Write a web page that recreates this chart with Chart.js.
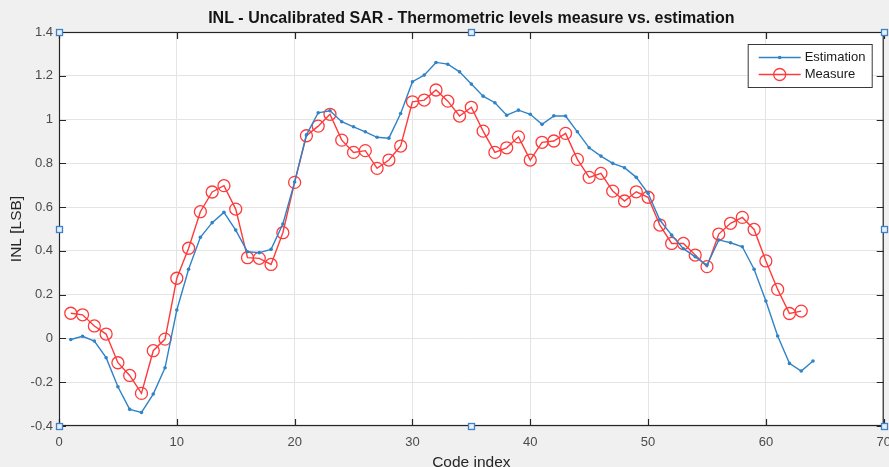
<!DOCTYPE html>
<html>
<head>
<meta charset="utf-8">
<title>INL - Uncalibrated SAR</title>
<script src="https://cdn.jsdelivr.net/npm/chart.js@4.4.1/dist/chart.umd.min.js"></script>
<style>
  html, body { margin: 0; padding: 0; background: #f0f0f0; overflow: hidden; }
  /* canvas is 2px wider than the window so the "70" label is cut, as in the original */
  #wrap { width: 889px; height: 467px; overflow: hidden; }
</style>
</head>
<body>
<div id="wrap"><canvas id="inlChart" width="891" height="467"></canvas></div>
<script>
// Code indices (x axis categories)
const codeIndex = [
    1, 2, 3, 4, 5, 6, 7, 8, 9, 10, 11, 12, 13, 14, 15, 16,
    17, 18, 19, 20, 21, 22, 23, 24, 25, 26, 27, 28, 29, 30, 31, 32,
    33, 34, 35, 36, 37, 38, 39, 40, 41, 42, 43, 44, 45, 46, 47, 48,
    49, 50, 51, 52, 53, 54, 55, 56, 57, 58, 59, 60, 61, 62, 63, 64
];

// INL [LSB]
const estimation = [
    -0.005, 0.010, -0.012, -0.088, -0.221, -0.324, -0.338, -0.254,
    -0.134, 0.130, 0.316, 0.462, 0.529, 0.576, 0.495, 0.396,
    0.392, 0.407, 0.523, 0.715, 0.930, 1.031, 1.040, 0.990,
    0.967, 0.944, 0.919, 0.915, 1.028, 1.173, 1.203, 1.261,
    1.253, 1.218, 1.162, 1.107, 1.077, 1.020, 1.043, 1.024,
    0.978, 1.017, 1.016, 0.944, 0.871, 0.833, 0.800, 0.780,
    0.736, 0.663, 0.541, 0.472, 0.410, 0.373, 0.335, 0.450,
    0.437, 0.419, 0.316, 0.171, 0.011, -0.114, -0.149, -0.103
];

const measure = [
    0.115, 0.108, 0.057, 0.020, -0.111, -0.169, -0.251, -0.056,
    -0.003, 0.275, 0.412, 0.579, 0.669, 0.698, 0.591, 0.369,
    0.366, 0.338, 0.483, 0.713, 0.926, 0.970, 1.024, 0.906,
    0.850, 0.858, 0.777, 0.815, 0.879, 1.081, 1.089, 1.135,
    1.084, 1.016, 1.056, 0.947, 0.850, 0.871, 0.921, 0.815,
    0.896, 0.902, 0.937, 0.818, 0.736, 0.754, 0.673, 0.628,
    0.670, 0.645, 0.518, 0.434, 0.434, 0.381, 0.328, 0.477,
    0.526, 0.553, 0.498, 0.354, 0.224, 0.114, 0.125
];

// Tick labels
const xTicks = [0, 10, 20, 30, 40, 50, 60, 70];
const yTicks = [-0.4, -0.2, 0, 0.2, 0.4, 0.6, 0.8, 1, 1.2, 1.4];

const TITLE = 'INL - Uncalibrated SAR - Thermometric levels measure vs. estimation';
const FONT = '"Liberation Sans", Arial, Helvetica, sans-serif';
const BLUE = '#2f83c6';
const RED = '#ff3a3a';
const AXIS = '#262626';

const InlChart = {
    init() {
        const ctx = document.querySelector('#inlChart');
        if (!ctx || typeof Chart === 'undefined') return;

        new Chart(ctx, {
            type: 'line',
            data: { datasets: this.buildDatasets() },
            options: this.buildOptions(),
            plugins: [this.backgroundPlugin(), this.framePlugin()]
        });
    },

    buildDatasets() {
        const toPoints = (values) => values.map((v, i) => ({ x: codeIndex[i], y: v }));
        return [
            {
                label: 'Estimation',
                data: toPoints(estimation),
                borderColor: BLUE,
                backgroundColor: BLUE,
                borderWidth: 1.4,
                pointRadius: 1.8,
                pointBorderWidth: 0,
                pointHoverRadius: 1.8,
                tension: 0
            },
            {
                label: 'Measure',
                data: toPoints(measure),
                borderColor: RED,
                backgroundColor: 'rgba(0,0,0,0)',
                borderWidth: 1.4,
                pointStyle: 'circle',
                pointRadius: 6,
                pointBorderWidth: 1.3,
                pointHoverRadius: 6,
                tension: 0
            }
        ];
    },

    buildOptions() {
        return {
            responsive: false,
            animation: false,
            devicePixelRatio: 1,
            // top space is for the title, which MATLAB centres over the axes
            layout: { padding: { left: 0, right: 0, top: 32, bottom: 0 } },
            plugins: {
                legend: { display: false },
                tooltip: { enabled: false },
                title: { display: false }
            },
            scales: {
                x: {
                    type: 'linear',
                    min: 0,
                    max: 70,
                    afterBuildTicks: (scale) => {
                        scale.ticks = xTicks.map(v => ({ value: v }));
                    },
                    afterFit: (scale) => {
                        scale.height = 41;
                        scale.paddingLeft = 0;
                        scale.paddingRight = 0;
                    },
                    grid: { color: '#e4e4e4', lineWidth: 1, drawTicks: false },
                    border: { display: false },
                    ticks: {
                        padding: 9,
                        color: '#4a4a4a',
                        font: { family: FONT, size: 13 },
                        maxRotation: 0
                    },
                    title: {
                        display: true,
                        text: 'Code index',
                        color: AXIS,
                        font: { family: FONT, size: 15.5, lineHeight: 1 },
                        padding: { top: 0, bottom: -3.5 }
                    }
                },
                y: {
                    min: -0.4,
                    max: 1.4,
                    afterBuildTicks: (scale) => {
                        scale.ticks = yTicks.map(v => ({ value: v }));
                    },
                    afterFit: (scale) => {
                        scale.width = 59;
                    },
                    grid: { color: '#e4e4e4', lineWidth: 1, drawTicks: false },
                    border: { display: false },
                    ticks: {
                        padding: 6,
                        color: '#4a4a4a',
                        font: { family: FONT, size: 13 },
                        callback: (value) => String(+value.toFixed(1))
                    },
                    title: {
                        display: true,
                        text: 'INL [LSB]',
                        color: AXIS,
                        font: { family: FONT, size: 15.5 },
                        padding: { top: 7.5, bottom: 0 }
                    }
                }
            }
        };
    },

    // Grey figure background, white axes
    backgroundPlugin() {
        return {
            id: 'figureBackground',
            beforeDraw(chart) {
                const { ctx, chartArea: a } = chart;
                ctx.save();
                ctx.fillStyle = '#f0f0f0';
                ctx.fillRect(0, 0, chart.width, chart.height);
                ctx.fillStyle = '#ffffff';
                ctx.fillRect(a.left, a.top, a.right - a.left, a.bottom - a.top);
                ctx.restore();
            }
        };
    },

    // Title, axes box, inward ticks, boxed legend and selection handles
    framePlugin() {
        return {
            id: 'matlabFrame',
            afterDraw(chart) {
                const { ctx, chartArea: a, scales } = chart;
                ctx.save();

                // title over the axes centre
                ctx.fillStyle = '#141414';
                ctx.font = 'bold 16px ' + FONT;
                ctx.textAlign = 'center';
                ctx.textBaseline = 'middle';
                ctx.fillText(TITLE, (a.left + a.right) / 2, a.top - 13);

                // box
                ctx.strokeStyle = AXIS;
                ctx.lineWidth = 1.2;
                ctx.strokeRect(a.left + 0.5, a.top + 0.5, a.right - a.left - 1, a.bottom - a.top - 1);

                // inward ticks
                const len = 7;
                ctx.beginPath();
                xTicks.forEach(v => {
                    const px = Math.round(scales.x.getPixelForValue(v)) + 0.5;
                    ctx.moveTo(px, a.bottom);
                    ctx.lineTo(px, a.bottom - len);
                    ctx.moveTo(px, a.top);
                    ctx.lineTo(px, a.top + len);
                });
                yTicks.forEach(v => {
                    const py = Math.round(scales.y.getPixelForValue(v)) + 0.5;
                    ctx.moveTo(a.left, py);
                    ctx.lineTo(a.left + len, py);
                    ctx.moveTo(a.right, py);
                    ctx.lineTo(a.right - len, py);
                });
                ctx.stroke();

                InlChart.drawLegend(chart);

                // selection handles
                const midX = (a.left + a.right) / 2;
                const midY = (a.top + a.bottom) / 2;
                const handles = [
                    [a.left, a.top], [midX, a.top], [a.right, a.top],
                    [a.left, midY], [a.right, midY],
                    [a.left, a.bottom], [midX, a.bottom], [a.right, a.bottom]
                ];
                ctx.lineWidth = 1.3;
                ctx.strokeStyle = '#3f80c6';
                ctx.fillStyle = '#e8f0fa';
                handles.forEach(([hx, hy]) => {
                    ctx.fillRect(Math.round(hx) - 3, Math.round(hy) - 3, 6, 6);
                    ctx.strokeRect(Math.round(hx) - 2.5, Math.round(hy) - 2.5, 6, 6);
                });

                ctx.restore();
            }
        };
    },

    drawLegend(chart) {
        const { ctx, chartArea: a } = chart;
        const box = { x: a.right - 136, y: a.top + 12, w: 124, h: 43 };

        ctx.fillStyle = '#ffffff';
        ctx.fillRect(box.x, box.y, box.w, box.h);
        ctx.strokeStyle = '#3a3a3a';
        ctx.lineWidth = 1;
        ctx.strokeRect(box.x + 0.5, box.y + 0.5, box.w, box.h);

        ctx.font = '13px ' + FONT;
        ctx.textBaseline = 'middle';
        ctx.textAlign = 'left';

        chart.data.datasets.forEach((ds, i) => {
            const y = box.y + 13.5 + i * 17;
            const x0 = box.x + 11;
            const x1 = box.x + 53;
            const cx = (x0 + x1) / 2;

            ctx.strokeStyle = ds.borderColor;
            ctx.lineWidth = ds.borderWidth;
            ctx.beginPath();
            ctx.moveTo(x0, y);
            ctx.lineTo(x1, y);
            ctx.stroke();

            ctx.beginPath();
            ctx.arc(cx, y, ds.pointRadius, 0, Math.PI * 2);
            if (ds.pointRadius > 3) {
                ctx.lineWidth = ds.pointBorderWidth;
                ctx.stroke();
            } else {
                ctx.fillStyle = ds.backgroundColor;
                ctx.fill();
            }

            ctx.fillStyle = '#1a1a1a';
            ctx.fillText(ds.label, x1 + 4, y);
        });
    }
};

document.addEventListener('DOMContentLoaded', function() {
    InlChart.init();
});
</script>
</body>
</html>
